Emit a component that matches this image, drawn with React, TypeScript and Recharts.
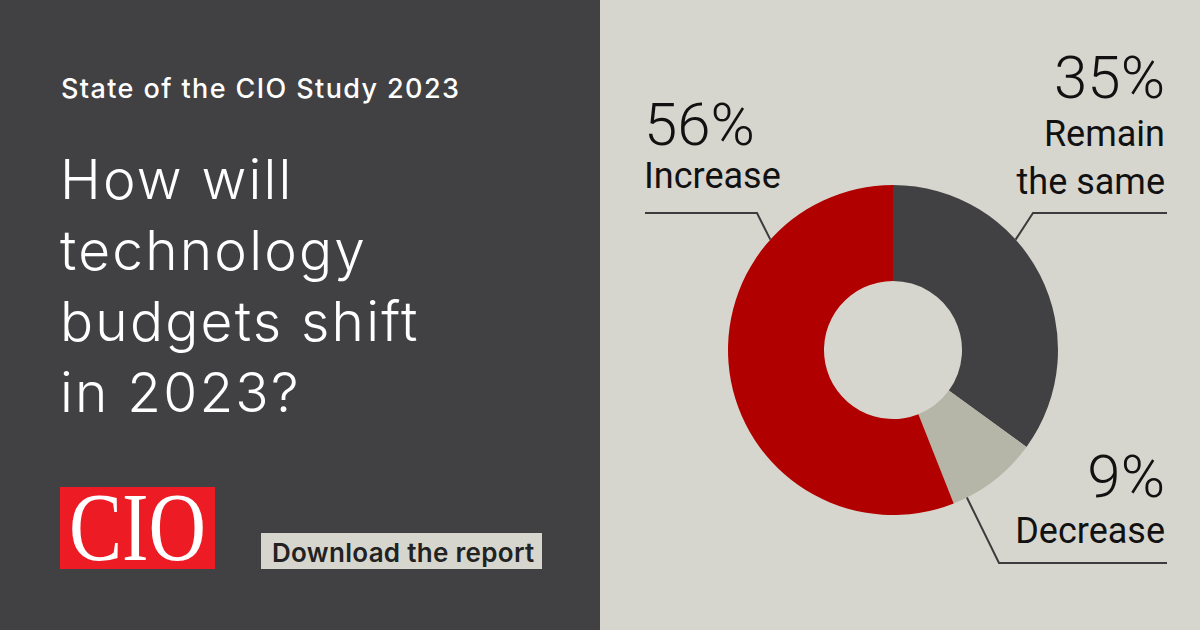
import { PieChart, Pie, Cell } from "recharts";

// survey answers, clockwise from 12 o'clock
const categories = ["Remain the same", "Decrease", "Increase"];
const shares = [35, 9, 56];
const sliceColors = ["#414143", "#b5b5a8", "#b10000"];
const labelLines = [["Remain", "the same"], ["Decrease"], ["Increase"]];

const titleLines = ["How will", "technology", "budgets shift", "in 2023?"];

// leader geometry, relative to the pie centre
const leaders = [
  { angle: 42, elbow: [140, -137], endX: 274, anchor: "end", textX: 272, pctY: -252, nameY: [-204, -156] },
  { angle: -63.4, elbow: [106, 213], endX: 274, anchor: "end", textX: 272, pctY: 147, nameY: [193] },
  { angle: 138, elbow: [-136, -137], endX: -248, anchor: "start", textX: -249, pctY: -205, nameY: [-162] },
];

const pieData = categories.map((name, i) => ({ name, value: shares[i] }));

const LABEL_FONT = "Roboto, 'Noto Sans', sans-serif";
const SANS = "Inter, 'Open Sans', sans-serif";

function renderLeader(props: any) {
  const { cx, cy, outerRadius, index, value } = props;
  const l = leaders[index];
  const rad = (l.angle * Math.PI) / 180;
  const sx = cx + outerRadius * Math.cos(rad);
  const sy = cy - outerRadius * Math.sin(rad);
  const ex = cx + l.elbow[0];
  const ey = cy + l.elbow[1];
  return (
    <g key={`leader-${index}`}>
      <polyline
        points={`${sx},${sy} ${ex},${ey} ${cx + l.endX},${ey}`}
        fill="none"
        stroke="#3c3c3c"
        strokeWidth={2}
      />
      <text
        x={cx + l.textX}
        y={cy + l.pctY}
        textAnchor={l.anchor}
        fontFamily={LABEL_FONT}
        fontWeight={300}
        fontSize={60}
        fill="#111"
      >
        {value}%
      </text>
      {labelLines[index].map((line, j) => (
        <text
          key={line}
          x={cx + l.textX}
          y={cy + l.nameY[j]}
          textAnchor={l.anchor}
          fontFamily={LABEL_FONT}
          fontWeight={400}
          fontSize={36}
          fill="#111"
        >
          {line}
        </text>
      ))}
    </g>
  );
}

export default function App() {
  return (
    <div style={{ position: "relative", width: 1200, height: 630, overflow: "hidden" }}>
      <style>{"body{margin:0}"}</style>

      <svg width={600} height={630} style={{ position: "absolute", left: 0, top: 0 }}>
        <rect width={600} height={630} fill="#414143" />
        <text x={61} y={97.5} fontFamily={SANS} fontWeight={500} fontSize={27} letterSpacing={1.4} fill="#fff">
          State of the CIO Study 2023
        </text>
        {titleLines.map((line, i) => (
          <text
            key={line}
            x={60}
            y={199 + i * 71}
            fontFamily={SANS}
            fontWeight={300}
            fontSize={55}
            letterSpacing={2.2}
            fill="#fff"
          >
            {line}
          </text>
        ))}
        <rect x={60} y={487} width={155} height={82} fill="#ed1c24" />
        <text
          x={137.5}
          y={560}
          textAnchor="middle"
          fontFamily="'Liberation Serif', 'DejaVu Serif', serif"
          fontSize={97}
          fill="#fff"
          textLength={137}
          lengthAdjust="spacingAndGlyphs"
        >
          CIO
        </text>
        <rect x={261} y={533} width={281} height={36} fill="#d7d6ce" />
        <text x={272} y={561.5} fontFamily={SANS} fontWeight={600} fontSize={26} letterSpacing={0.3} fill="#222">
          Download the report
        </text>
      </svg>

      <div style={{ position: "absolute", left: 600, top: 0, width: 600, height: 630, background: "#d7d6ce" }}>
        <PieChart width={600} height={630} margin={{ top: 0, right: 0, bottom: 0, left: 0 }}>
          <Pie
            data={pieData}
            dataKey="value"
            nameKey="name"
            cx={293}
            cy={350}
            innerRadius={69}
            outerRadius={165}
            startAngle={90}
            endAngle={-270}
            stroke="none"
            label={renderLeader}
            labelLine={false}
            isAnimationActive={false}
          >
            {pieData.map((d, i) => (
              <Cell key={d.name} fill={sliceColors[i]} />
            ))}
          </Pie>
        </PieChart>
      </div>
    </div>
  );
}
